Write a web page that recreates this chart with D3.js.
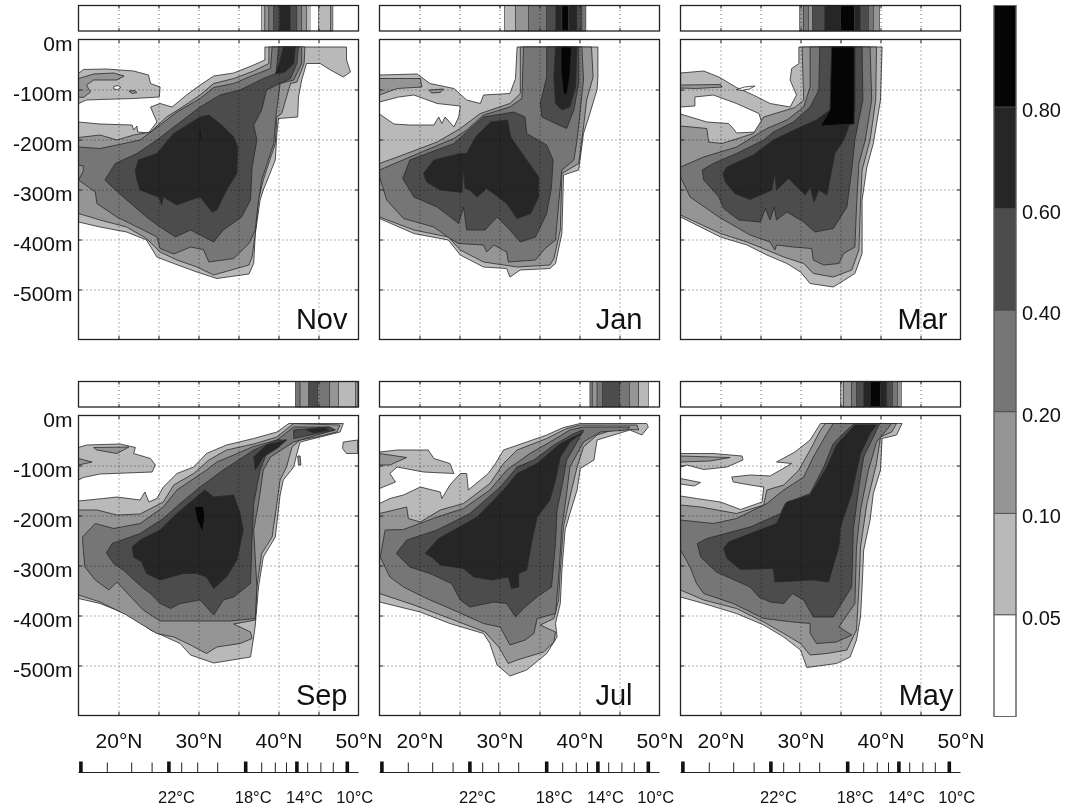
<!DOCTYPE html>
<html>
  <head>
    <meta charset="utf-8">
    <title>Monthly sections</title>
    <script src="https://d3js.org/d3.v7.min.js"></script>
    <style>
      html, body { margin: 0; background: white; }
      svg { display: block; filter: blur(0.35px); }
      text { font-family: "Liberation Sans", sans-serif; fill: #111; }
      .axis path { display: none; }
      .grid line { stroke: #666; stroke-dasharray: 1 3; mix-blend-mode: multiply; }
      .tick-mark line { stroke: #222; }
    </style>
  </head>
  <body>
    <svg id="chart" width="1068" height="808"></svg>
    <script>
      // contour classes, white up to black
      var levelShades = ["#ffffff", "#b9b9b9", "#959595", "#767676", "#4c4c4c", "#262626", "#050505"];
      var levelLabels = ["0.05", "0.10", "0.20", "0.40", "0.60", "0.80"];
      var latGrid = [20, 25, 30, 35, 40, 45];
      var latLabels = [20, 30, 40, 50];
      var depthTicks = [0, 100, 200, 300, 400, 500];
      // latitude of each whole degree on the temperature scale
      var tempMajor = [[26, 15.3], [22, 26.3], [18, 35.9], [14, 42.3], [10, 48.6]];
      var tempMinor = [18.6, 21.65, 24.2, 27.9, 29.9, 32.4, 37.9, 39.6, 41, 43.65, 45.3, 46.85];

      // surface strips: band edges in degrees, then the class of each band
      var novStripEdges = [37.9, 38.3, 38.8, 39.4, 40.1, 41.5, 42.3, 42.9, 43.5, 44, 45, 46.5, 46.8];
      var novStripLevels = [1, 2, 3, 4, 5, 4, 3, 2, 1, 0, 1, 2];
      var janStripEdges = [30.6, 32, 33.6, 35.9, 37, 37.8, 38.6, 39.7, 40.3, 40.8];
      var janStripLevels = [1, 2, 3, 4, 5, 6, 5, 4, 3];
      var marStripEdges = [29.9, 30.4, 31, 31.5, 33, 35, 36.75, 37.5, 38.5, 39.1, 39.9];
      var marStripLevels = [2, 3, 2, 4, 5, 6, 5, 4, 3, 2];
      var sepStripEdges = [42.1, 42.7, 43.75, 44.9, 46.4, 47.5, 49.6, 49.9];
      var sepStripLevels = [3, 2, 4, 3, 2, 1, 2];
      var julStripEdges = [41.3, 41.6, 42.2, 42.9, 45, 46.25, 47.4, 48.6];
      var julStripLevels = [3, 2, 3, 4, 3, 2, 1];
      var mayStripEdges = [35, 35.4, 36.4, 37, 37.9, 38.7, 40, 40.8, 41.5, 42.1, 42.6];
      var mayStripLevels = [1, 2, 3, 4, 5, 6, 5, 4, 3, 2];

      // contours: [class, [[lat, depth], ...]], painted in order
      var novShapes = [
        [1, [[15,68],[15.6,60],[18.5,59],[21.9,63],[23.75,71],[24,88],[25.2,95],[25.1,115],[21.9,118],[17.7,120],[16,121],[15,128]]],
        [2, [[15,78],[16.9,69],[19.4,67],[20.7,73],[19.8,81],[16.9,81],[16,91],[16.5,105],[15.6,116],[15,115]]],
        [2, [[21.3,103],[22,102],[22.3,106],[21.7,108]]],
        [0, [[19.4,94],[20,92],[20.3,96],[19.9,100],[19.4,99]]],
        [1, [[15,165],[17.7,169],[21.7,171],[21.9,181],[22.3,173],[22.4,185],[23.75,187],[24.8,165],[24,135],[25.2,128],[26.7,135],[28.5,111],[30.2,91],[31.9,73],[34.4,67],[36.9,51],[38.3,41],[38.3,15],[48.5,15],[48.5,41],[49,65],[48.1,75],[46.5,61],[45.2,48],[43.5,48],[42.9,81],[42.5,115],[42.4,155],[40,158],[39.8,188],[39.6,241],[38.1,301],[37.7,321],[37.1,388],[36.9,448],[36.3,469],[32.3,478],[29.8,465],[26.9,448],[24.8,435],[23.5,401],[21,385],[17.7,375],[15,365]]],
        [2, [[15,196],[17.7,191],[19.8,201],[21.9,191],[24,185],[26,155],[27.7,138],[30.2,111],[31.9,88],[34.4,78],[36.9,63],[38.8,48],[38.8,15],[43.3,15],[43.2,48],[42.3,85],[41.5,88],[40.4,148],[39.8,155],[39.6,208],[38.1,281],[37.5,321],[37.1,388],[36.7,435],[36.3,451],[31.9,471],[29.8,455],[27.3,441],[25.2,425],[23.5,398],[21,375],[17.7,361],[15,348]]],
        [3, [[15,215],[17.7,218],[19.8,211],[22.7,201],[25.2,171],[27.3,145],[30.2,118],[31.9,96],[34.4,88],[36.9,71],[39,58],[39.2,15],[42.9,15],[42.9,48],[41.9,81],[40.2,88],[39.7,151],[39.4,208],[37.9,281],[37.4,335],[37.1,381],[36.3,408],[34.4,438],[31.3,445],[30.6,420],[29,415],[26.9,429],[25.2,418],[24.8,395],[23.1,381],[19.8,355],[17.3,328],[17.1,305],[15,281],[15.6,263],[15.6,253],[15,251]]],
        [4, [[18.3,281],[19.6,248],[22.3,228],[24.8,201],[26.9,175],[30.2,135],[32.7,111],[35.2,101],[38.1,78],[39.7,68],[40,15],[42.5,15],[42.3,48],[41.5,78],[38.5,101],[37.9,141],[36.9,171],[37.3,201],[36.7,255],[36.5,321],[35.4,355],[33.1,381],[31.9,405],[29,381],[27.1,395],[25.2,375],[23.5,355],[20.6,315],[19.4,298]]],
        [5, [[22.1,261],[22.5,241],[24.8,228],[26.9,188],[30.2,155],[31.3,151],[32.9,171],[34.4,195],[34.9,215],[34.8,268],[33.5,301],[32.3,341],[31.7,345],[30.2,315],[29,321],[27.3,331],[25.6,315],[25.4,331],[25,315],[22.7,301],[22.3,281]]],
        [5, [[40.6,15],[42.1,15],[41.9,48],[40.8,65],[39.6,69],[40.1,48]]],
        [6, [[30.1,181],[30.3,181],[30.3,203],[30.1,203]]]
      ];
      var janShapes = [
        [1, [[15,71],[19.7,69],[21.3,88],[24.3,98],[25.9,121],[27.6,128],[28,111],[31.3,108],[32,78],[32.2,15],[42.3,15],[42.3,75],[42.2,100],[41.8,121],[41.3,148],[40.5,188],[39.9,261],[38,271],[37.8,388],[37,448],[36.3,458],[32.6,461],[31.3,475],[30.9,458],[28,455],[25.1,431],[23.6,401],[19.3,388],[15,358]]],
        [0, [[15,125],[17.4,115],[19.3,111],[22.2,128],[25.1,133],[24.9,155],[24.3,175],[23.2,155],[22.8,168],[22.4,155],[21.8,171],[18.8,171],[16.8,169],[15,149]]],
        [2, [[15,78],[20.1,78],[20.3,95],[17.2,98],[15,111]]],
        [2, [[21.2,101],[23,99],[22.6,106],[21.5,107]]],
        [2, [[15,248],[18.4,228],[22.2,205],[25.1,178],[27.6,148],[31.3,128],[32.6,108],[32.6,15],[41.5,15],[41.7,75],[40.9,121],[40.5,175],[39.9,248],[37.8,268],[37.6,381],[36.8,438],[36.3,451],[32.2,455],[28,445],[25.1,421],[23.6,395],[19.3,381],[15,355]]],
        [3, [[15,261],[18.8,235],[24.3,198],[25.9,181],[28,151],[31.3,135],[32.8,118],[33,15],[40.3,15],[40.5,81],[40.1,141],[39.7,201],[39.3,241],[37.8,261],[37.4,328],[37,401],[35.7,418],[34.5,441],[31.1,445],[30.9,425],[29.3,411],[28.4,425],[28,411],[24.9,408],[23.8,398],[21.8,375],[18,358],[15.9,321],[15,275]]],
        [4, [[17.9,278],[18.8,241],[24.3,208],[28,155],[31.8,145],[33.2,155],[33.4,188],[35.9,211],[36.7,241],[36.5,295],[35.9,348],[34.5,395],[32.6,405],[31.3,381],[29.7,355],[28.2,381],[25.9,381],[25.5,335],[24.9,368],[22.2,335],[19.3,315]]],
        [4, [[35.9,15],[39.9,15],[39.9,88],[39.3,141],[38.4,178],[37,168],[35.3,155],[35.1,128],[35.9,75]]],
        [5, [[37,15],[39.7,15],[39.5,95],[38.8,135],[37.8,141],[37,128],[36.8,75]]],
        [6, [[37.7,15],[39,15],[38.8,75],[38.4,111],[38,108],[37.7,68]]],
        [5, [[20.5,268],[21.8,241],[25.1,228],[25.9,228],[27,195],[28.9,165],[31,161],[31.4,195],[33.4,241],[34.9,275],[34.9,315],[33.9,348],[32.2,358],[30.9,328],[28.4,298],[27.2,315],[26.2,300],[25.7,298],[25.5,261],[25.3,306],[22.6,301],[20.9,285]]]
      ];
      var marShapes = [
        [1, [[15,67],[17.9,63],[19.8,75],[22,96],[24.1,111],[26.2,128],[28.7,135],[29.5,111],[28.7,81],[28.9,58],[29.8,48],[29.8,15],[40.2,15],[40,121],[39.1,208],[38.3,255],[37.7,321],[37.7,428],[36.8,468],[34.1,495],[31.2,488],[30,465],[28.3,448],[25.8,431],[23.3,411],[20,395],[15,355]]],
        [0, [[15,135],[16.8,133],[16.8,115],[19.1,111],[22,128],[24.8,148],[25.2,168],[24.3,185],[22,187],[21.6,178],[21,168],[18.3,165],[15,149]]],
        [0, [[22,100],[23,95],[24.3,93],[23.6,99],[22.6,102]]],
        [2, [[15,91],[20,90],[20.2,95],[17,98],[15,97]]],
        [2, [[15,173],[18.3,178],[18.5,205],[20.2,208],[24.1,188],[25.4,155],[29.3,136],[30.4,121],[30.2,15],[39.5,15],[39.4,121],[38.7,201],[37.7,261],[37.5,328],[37.3,421],[36.4,461],[34.1,475],[31.6,468],[30.4,448],[27.9,435],[25.8,421],[23.3,405],[20,388],[15,351]]],
        [3, [[15,255],[17.9,235],[22,215],[25.8,178],[28.3,161],[30.4,135],[31.2,95],[31.2,15],[38.7,15],[38.9,121],[38.1,201],[37.3,248],[37,335],[36.8,415],[35.4,428],[34.8,448],[32.9,451],[31.6,441],[31.4,418],[29.1,415],[27,411],[26.8,421],[26.2,405],[23.7,391],[19.8,355],[16.2,315],[15,275]]],
        [4, [[17.7,261],[19.1,248],[22,228],[25.4,201],[26.6,185],[29.1,165],[31.2,135],[32.3,101],[32.4,15],[37.7,15],[37.8,121],[36.8,201],[36.4,261],[35.8,335],[34.1,378],[31.8,385],[30.4,365],[28.3,345],[27,361],[26.7,335],[26.2,361],[25.6,338],[25,365],[22.3,361],[20.4,338],[19.8,315],[17.9,281]]],
        [5, [[20.3,268],[20.8,255],[24.1,231],[26.6,201],[30,175],[32,161],[33.7,141],[33.9,15],[36.8,15],[36.8,141],[35.4,201],[34.3,228],[33.9,261],[33.3,311],[32.3,301],[31.7,325],[31.2,295],[30.6,311],[28.5,278],[27,301],[26.8,268],[26.4,301],[23.7,320],[21.8,308],[20.6,285]]],
        [6, [[33.9,15],[36.7,15],[36.7,169],[32.5,173],[33.7,141]]]
      ];
      var sepShapes = [
        [1, [[15,64],[16,59],[20.2,57],[22.1,64],[21.9,76],[24,86],[24.6,99],[24.2,113],[17.7,117],[15.6,124],[15,129]]],
        [2, [[16.9,64],[21.3,63],[19.8,76],[17.3,69]]],
        [2, [[15,86],[16.7,93],[15,99]]],
        [1, [[15,171],[18.1,166],[19.8,163],[22.7,169],[23.3,153],[23.8,173],[24.8,166],[25.6,143],[27.3,116],[29.4,103],[31,76],[33.5,59],[36.9,46],[39.8,33],[41.3,16],[48.1,16],[47.7,33],[45.2,43],[42.7,53],[42.3,76],[41.9,103],[40.6,129],[40.2,159],[39.6,243],[38.1,283],[37.5,343],[37.1,419],[36.9,443],[36.5,483],[31.9,495],[29,479],[27.7,456],[24,429],[21.9,403],[17.7,376],[15,366]]],
        [1, [[48.1,53],[49.9,49],[49.9,76],[48.5,76],[48,66]]],
        [2, [[42.4,81],[42.7,81],[42.8,99],[42.5,99]]],
        [2, [[15,189],[17.3,189],[19.8,199],[22.7,197],[25.6,173],[26.9,139],[29.4,116],[31.3,89],[33.5,69],[36.9,57],[39.8,43],[41.9,16],[47.7,19],[47.3,33],[44.8,43],[42.7,49],[41.7,63],[41,103],[40.2,129],[39.8,176],[39.2,243],[37.9,276],[37.3,343],[37.1,409],[34.4,417],[36.5,433],[36.7,446],[35.2,456],[32.3,463],[31,476],[29,459],[26.9,443],[24.8,436],[22.7,416],[21,399],[17.7,373],[15,359]]],
        [3, [[15.5,243],[17.1,216],[19.4,226],[22.7,216],[25.6,183],[27.3,149],[31,109],[32.3,93],[34.4,79],[36.7,63],[39.8,49],[41.9,23],[46.3,23],[47.1,29],[44.8,39],[41.9,53],[39,83],[38.1,109],[37.5,176],[36.9,229],[37.3,343],[37.1,406],[34,411],[25.2,411],[23.1,389],[21.9,369],[19.8,333],[18.8,349],[17.1,329],[15.8,303],[15.6,269]]],
        [4, [[18.5,275],[19.2,256],[22.7,236],[25.6,206],[27.7,176],[30.2,143],[33.1,109],[36.9,69],[39.8,49],[41,49],[38.5,76],[37.7,109],[36.9,176],[36.7,243],[36.5,336],[34.4,363],[33.1,369],[31.9,399],[30.2,369],[27.7,376],[26.5,386],[25.2,376],[24,356],[23.1,346],[20.6,309],[19.4,296]]],
        [4, [[41.9,29],[46.3,23],[47,29],[44.8,36],[41.9,46]]],
        [5, [[43.5,29],[45.8,24],[46.3,29],[44.4,35]]],
        [5, [[36.9,83],[38.5,59],[41,49],[39.8,66],[38.1,83],[37.1,109]]],
        [5, [[21.7,263],[22.7,249],[25.2,229],[27.3,196],[30.8,149],[31.9,163],[34.4,159],[35.2,196],[35.6,229],[34.8,289],[33.5,323],[31.9,346],[31,323],[29.8,316],[28.1,316],[25.2,329],[23.5,316],[22.9,293],[21.9,283]]],
        [6, [[29.5,183],[30.6,181],[30.8,203],[30.5,233],[29.8,209]]]
      ];
      var julShapes = [
        [1, [[15,73],[17.2,69],[21.1,69],[21.8,86],[23.8,96],[24.3,116],[20.5,113],[17.2,103],[16.3,116],[17,133],[15,146]]],
        [2, [[15,76],[18.4,84],[16.3,99],[15,99]]],
        [1, [[15,176],[16.3,166],[18,159],[20.1,143],[22.6,153],[22.8,166],[23.8,139],[25.1,116],[25.9,116],[26.1,149],[28.6,116],[29.5,96],[30.5,69],[33.4,53],[35.9,39],[38,24],[40.1,16],[48.4,16],[48.6,23],[47.8,39],[46.3,29],[42.2,49],[41.8,89],[40.1,106],[39.7,149],[38.8,196],[38.2,229],[37.8,309],[37.6,376],[37,416],[37.2,443],[35.9,476],[33.4,509],[31.3,521],[29.7,499],[28.8,456],[28,436],[23.8,416],[20.1,393],[15,373]]],
        [2, [[15,196],[18.4,183],[18.6,206],[20.1,213],[22.6,189],[25.5,176],[28.8,136],[30.5,96],[32.2,69],[35.9,46],[38.4,26],[40.1,19],[47.2,19],[47.4,29],[44.7,26],[42.2,39],[40.5,63],[39.7,103],[38.8,163],[38,223],[37.6,309],[37.4,369],[36.8,406],[35.1,419],[37,433],[36.8,453],[35.5,473],[32.2,489],[31.1,496],[29.9,463],[28.2,433],[23.8,406],[19.3,379],[15,356]]],
        [3, [[15.1,283],[15.7,229],[18,228],[22.2,203],[25.5,186],[28.8,149],[30.9,109],[33.8,76],[36.3,53],[38.8,29],[40.5,23],[46.3,23],[45.9,29],[42.6,33],[40.5,53],[38.8,103],[38.4,156],[37.8,223],[37.4,323],[37,396],[34.7,406],[34.3,436],[33.2,449],[31.3,459],[30.1,423],[28,416],[23.8,386],[20.9,366],[18,343],[16.3,323]]],
        [4, [[17.1,276],[18.4,249],[22.2,229],[26.3,196],[30.1,143],[32.2,103],[34.3,89],[36.8,59],[39.3,36],[40.5,29],[39.7,53],[38.4,89],[37.8,143],[37.2,189],[37,256],[36.5,343],[34.7,363],[33.2,383],[32,403],[30.9,376],[29.3,373],[26.3,383],[25.1,369],[24,336],[21.3,316],[18.8,303]]],
        [5, [[20.7,276],[22.4,246],[27.2,203],[30.5,149],[32.2,116],[34.7,96],[37.6,56],[40.5,33],[38.8,53],[37.6,83],[37,129],[36.3,169],[34.7,203],[34,256],[33.4,309],[32.4,316],[32.4,343],[31.5,346],[31.1,323],[29,329],[26.8,323],[25.5,306],[22.6,299],[21.5,283]]]
      ];
      var mayShapes = [
        [1, [[15,76],[17.5,76],[19.1,76],[22.7,81],[22.8,89],[20.8,103],[17.9,108],[15.8,99],[15,103]]],
        [2, [[15,81],[21.2,84],[18.7,91],[15,93]]],
        [1, [[15,126],[17.5,134],[16.7,141],[15,137]]],
        [1, [[15,161],[17,166],[20,173],[22.5,188],[25.2,173],[25.4,143],[23.7,139],[21.6,133],[21.4,123],[23.7,119],[26.2,121],[27.5,109],[28.9,96],[27,93],[29.3,73],[31.2,49],[32.5,16],[42.7,16],[42,39],[40.2,46],[40,109],[39.1,156],[38.7,209],[37.9,269],[37.7,343],[37.5,403],[37,449],[36.2,483],[34.5,496],[30.8,504],[30,469],[27.9,443],[25.4,419],[22,396],[17.9,376],[15,363]]],
        [2, [[15,179],[17.5,183],[22,196],[25.4,179],[25.8,149],[27.9,139],[29.8,109],[31.2,69],[32.5,29],[33.1,16],[42,16],[41.4,33],[40,43],[39.5,96],[38.3,176],[37.5,263],[37.3,343],[37,429],[35.8,469],[33.3,476],[31.2,479],[30,456],[27.9,436],[25.4,413],[22,386],[17.9,369],[15,349]]],
        [3, [[15,209],[19.1,216],[22,206],[25.8,176],[27.9,149],[30.4,123],[31.6,83],[33.3,36],[34.1,16],[41.4,16],[40.4,36],[39.5,53],[38.5,109],[37.5,189],[37,263],[36.8,376],[34.8,423],[36.4,439],[34.5,453],[32,456],[31.2,436],[31.2,416],[29.1,413],[25.4,406],[21.6,376],[17.9,356],[17,336],[16.2,303],[15,269]]],
        [4, [[17.1,256],[18.3,246],[23.7,223],[27.5,196],[28.1,176],[31.2,156],[32.9,103],[34.1,56],[36.2,23],[36.8,16],[39.9,16],[39.1,43],[37.9,83],[37.3,143],[36.6,229],[36.4,343],[34.1,403],[31.6,403],[30.4,369],[29,356],[27.9,376],[26.2,373],[24.8,363],[23.7,343],[19.5,313],[17.5,283]]],
        [5, [[20.4,266],[21,253],[27,216],[28.3,173],[31.2,159],[33.3,103],[34.5,59],[36.8,19],[39.5,19],[38.7,36],[37.5,76],[36.4,156],[35,223],[34.8,263],[33.5,333],[31.6,329],[26.8,333],[26.6,306],[22.5,308],[20.8,286]]]
      ];

      var months = ["Nov", "Jan", "Mar", "Sep", "Jul", "May"];
      var monthShapes = [novShapes, janShapes, marShapes, sepShapes, julShapes, mayShapes];
      var monthEdges = [novStripEdges, janStripEdges, marStripEdges, sepStripEdges, julStripEdges, mayStripEdges];
      var monthLevels = [novStripLevels, janStripLevels, marStripLevels, sepStripLevels, julStripLevels, mayStripLevels];
      var monthInset = [11, 17, 13, 11, 27, 7];

      // page layout
      var colLeft = [78.5, 379.5, 680.5];
      var rowTop = [39.5, 415.5];
      var stripTop = [5.5, 381.5];
      var panelW = 280, panelH = 300, stripH = 25.5;

      var svg = d3.select("#chart");
      var x = d3.scaleLinear().domain([15, 50]).range([0, panelW]);
      var y = d3.scaleLinear().domain([0, 600]).range([0, panelH]);
      var line = d3.line()
        .x(function(d) { return x(d[0]); })
        .y(function(d) { return y(d[1]); })
        .curve(d3.curveLinearClosed);

      function frame(g, h) {
        g.append("rect")
          .attr("width", panelW)
          .attr("height", h)
          .attr("fill", "none")
          .attr("stroke", "#222")
          .attr("stroke-width", 1.3);
      }

      months.forEach(function(month, i) {
        var col = i % 3, row = i < 3 ? 0 : 1;

        // surface strip
        var strip = svg.append("g")
          .attr("transform", "translate(" + colLeft[col] + "," + stripTop[row] + ")");
        var edges = monthEdges[i];
        strip.selectAll(".band")
            .data(monthLevels[i])
          .enter().append("rect")
            .attr("class", "band")
            .attr("x", function(d, j) { return x(edges[j]); })
            .attr("width", function(d, j) { return x(edges[j + 1]) - x(edges[j]); })
            .attr("height", stripH)
            .attr("fill", function(d) { return levelShades[d]; })
            .attr("stroke", function(d) { return d ? "#333" : "none"; })
            .attr("stroke-width", 0.6);
        strip.append("g")
          .attr("class", "grid axis")
          .attr("transform", "translate(0," + stripH + ")")
          .call(d3.axisBottom(x).tickValues(latGrid).tickSize(-stripH).tickFormat(""));
        strip.append("g")
          .attr("class", "tick-mark axis")
          .attr("transform", "translate(0," + stripH + ")")
          .call(d3.axisBottom(x).tickValues(latGrid).tickSize(-3).tickFormat(""));
        strip.append("g")
          .attr("class", "tick-mark axis")
          .call(d3.axisTop(x).tickValues(latGrid).tickSize(-3).tickFormat(""));
        frame(strip, stripH);

        // section panel
        var panel = svg.append("g")
          .attr("transform", "translate(" + colLeft[col] + "," + rowTop[row] + ")");
        panel.selectAll(".contour")
            .data(monthShapes[i])
          .enter().append("path")
            .attr("class", "contour")
            .attr("d", function(d) { return line(d[1]); })
            .attr("fill", function(d) { return levelShades[d[0]]; })
            .attr("stroke", "#2a2a2a")
            .attr("stroke-width", 0.8);
        panel.append("g")
          .attr("class", "grid axis")
          .attr("transform", "translate(0," + panelH + ")")
          .call(d3.axisBottom(x).tickValues(latGrid).tickSize(-panelH).tickFormat(""));
        panel.append("g")
          .attr("class", "grid axis")
          .call(d3.axisLeft(y).tickValues(depthTicks.slice(1)).tickSize(-panelW).tickFormat(""));
        panel.append("g")
          .attr("class", "tick-mark axis")
          .attr("transform", "translate(0," + panelH + ")")
          .call(d3.axisBottom(x).tickValues(latGrid).tickSize(-3.5).tickFormat(""));
        panel.append("g")
          .attr("class", "tick-mark axis")
          .call(d3.axisTop(x).tickValues(latGrid).tickSize(-3.5).tickFormat(""));
        panel.append("g")
          .attr("class", "tick-mark axis")
          .call(d3.axisLeft(y).tickValues(depthTicks.slice(1)).tickSize(-3.5).tickFormat(""));
        panel.append("g")
          .attr("class", "tick-mark axis")
          .attr("transform", "translate(" + panelW + ",0)")
          .call(d3.axisRight(y).tickValues(depthTicks.slice(1)).tickSize(-3.5).tickFormat(""));
        frame(panel, panelH);

        panel.append("text")
          .attr("x", panelW - monthInset[i])
          .attr("y", panelH - 11)
          .attr("text-anchor", "end")
          .style("font-size", "29px")
          .text(month);

        // depth labels on the left column
        if (col == 0) {
          var depthAxis = panel.append("g")
            .attr("class", "axis")
            .call(d3.axisLeft(y)
              .tickValues(depthTicks)
              .tickSize(0)
              .tickPadding(6)
              .tickFormat(function(d) { return d ? "-" + d + "m" : "0m"; }));
          depthAxis.selectAll("text")
            .attr("dy", "0.52em")
            .style("font-size", "21px");
        }

        // latitude labels and temperature scale under the bottom row
        if (row == 1) {
          var latAxis = panel.append("g")
            .attr("class", "axis")
            .attr("transform", "translate(0," + panelH + ")")
            .call(d3.axisBottom(x)
              .tickValues(latLabels)
              .tickSize(0)
              .tickPadding(18)
              .tickFormat(function(d) { return d + "°N"; }));
          latAxis.selectAll("text").style("font-size", "21px");

          var temp = panel.append("g")
            .attr("transform", "translate(0," + (panelH + 57) + ")");
          temp.append("line")
            .attr("x2", panelW)
            .attr("stroke", "#222")
            .attr("stroke-width", 1.2);
          temp.selectAll(".minor")
              .data(tempMinor)
            .enter().append("line")
              .attr("class", "minor")
              .attr("x1", function(d) { return x(d); })
              .attr("x2", function(d) { return x(d); })
              .attr("y2", -10)
              .attr("stroke", "#222");
          temp.selectAll(".major")
              .data(tempMajor)
            .enter().append("line")
              .attr("class", "major")
              .attr("x1", function(d) { return x(d[1]); })
              .attr("x2", function(d) { return x(d[1]); })
              .attr("y2", -11)
              .attr("stroke", "#111")
              .attr("stroke-width", 3.6);
          temp.selectAll(".temp-label")
              .data(tempMajor.slice(1))
            .enter().append("text")
              .attr("class", "temp-label")
              .attr("x", function(d) { return x(d[1]) + 7.5; })
              .attr("y", 30)
              .attr("text-anchor", "middle")
              .style("font-size", "16.5px")
              .text(function(d) { return d[0] + "°C"; });
        }
      });

      // colour bar
      var barLevels = d3.range(levelShades.length).reverse();
      var barY = d3.scaleBand().domain(barLevels).range([5.5, 716.5]);
      var bar = svg.append("g").attr("transform", "translate(994,0)");
      bar.selectAll(".swatch")
          .data(barLevels)
        .enter().append("rect")
          .attr("class", "swatch")
          .attr("y", function(d) { return barY(d); })
          .attr("width", 22)
          .attr("height", barY.bandwidth())
          .attr("fill", function(d) { return levelShades[d]; })
          .attr("stroke", "#444")
          .attr("stroke-width", 0.8);
      bar.append("rect")
        .attr("y", 5.5)
        .attr("width", 22)
        .attr("height", 711)
        .attr("fill", "none")
        .attr("stroke", "#666")
        .attr("stroke-width", 1);
      bar.selectAll(".bar-label")
          .data(levelLabels)
        .enter().append("text")
          .attr("class", "bar-label")
          .attr("x", 28)
          .attr("y", function(d, i) { return barY(i + 1) + barY.bandwidth() + 10; })
          .style("font-size", "20px")
          .text(function(d) { return d; });
    </script>
  </body>
</html>
